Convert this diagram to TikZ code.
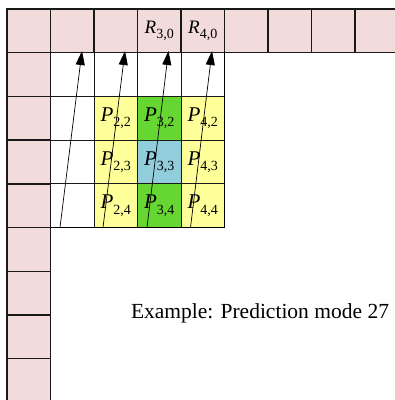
\documentclass[tikz,border=0pt]{standalone}
\usepackage{fontspec}
\setmainfont{Liberation Serif}
\usetikzlibrary{arrows.meta}
\definecolor{pinkc}{HTML}{F2DCDB}
\definecolor{yel}{HTML}{FFFF99}
\definecolor{grn}{HTML}{66D633}
\definecolor{blu}{HTML}{92CDDC}
\newcommand\Plab[1]{{\fontsize{21}{21}\selectfont\itshape P}\raisebox{-5.5pt}{\fontsize{14}{14}\selectfont #1}}
\newcommand\Rlab[1]{{\fontsize{19}{19}\selectfont\itshape R}\raisebox{-5pt}{\fontsize{14}{14}\selectfont #1}}
\begin{document}
\begin{tikzpicture}[x=1pt,y=-1pt,
  cell/.style={draw=black!90,line width=0.8pt,anchor=north west,minimum width=43.5pt,minimum height=43.7pt,inner sep=0pt,outer sep=0pt},
  refcell/.style={cell,fill=pinkc,line width=1.4pt},
  predarrow/.style={line width=0.7pt,-{Triangle[length=14pt,width=9pt]}}]
\useasboundingbox (0,0) rectangle (395,400);
% inner block
\foreach \i in {1,...,4}{
  \node[cell,fill=white] (c\i1) at ({7+43.5*\i},{9+43.7}) {};
}
\foreach \i in {2,3,4}{
  \node[cell,fill=white] (d\i) at (50.5,{9+43.7*\i}) {};
}
\node[cell,fill=yel] (p22) at (94,96.4) {\Plab{2,2}};
\node[cell,fill=grn] (p32) at (137.5,96.4) {\Plab{3,2}};
\node[cell,fill=yel] (p42) at (181,96.4) {\Plab{4,2}};
\node[cell,fill=yel] (p23) at (94,140.1) {\Plab{2,3}};
\node[cell,fill=blu] (p33) at (137.5,140.1) {\Plab{3,3}};
\node[cell,fill=yel] (p43) at (181,140.1) {\Plab{4,3}};
\node[cell,fill=yel] (p24) at (94,183.8) {\Plab{2,4}};
\node[cell,fill=grn] (p34) at (137.5,183.8) {\Plab{3,4}};
\node[cell,fill=yel] (p44) at (181,183.8) {\Plab{4,4}};
\draw[line width=1.2pt] (50.5,227.5) -- (224.5,227.5) -- (224.5,52.7);
% reference cells
\foreach \i in {0,1,2,5,6,7,8}{
  \node[refcell] (t\i) at ({7+43.5*\i},9) {};
}
\node[refcell] (t3) at (137.5,9) {\Rlab{3,0}};
\node[refcell] (t4) at (181,9) {\Rlab{4,0}};
\foreach \j in {1,...,8}{
  \node[refcell] (l\j) at (7,{9+43.7*\j}) {};
}
% arrows
\coordinate (s1) at (60,227.5);  \coordinate (e1) at (82,51);
\coordinate (s2) at (103,227.5); \coordinate (e2) at (125,51);
\coordinate (s3) at (147,227.5); \coordinate (e3) at (168.5,51);
\coordinate (s4) at (190.5,227.5); \coordinate (e4) at (212,51);
\draw[predarrow] (s1) -- (e1);
\draw[predarrow] (s2) -- (e2);
\draw[predarrow] (s3) -- (e3);
\draw[predarrow] (s4) -- (e4);
\node[anchor=base,inner sep=0pt,font=\fontsize{21.5}{21.5}\selectfont] (ex) at (260,318.3) {Example: Prediction mode 27};
\end{tikzpicture}
\end{document}
